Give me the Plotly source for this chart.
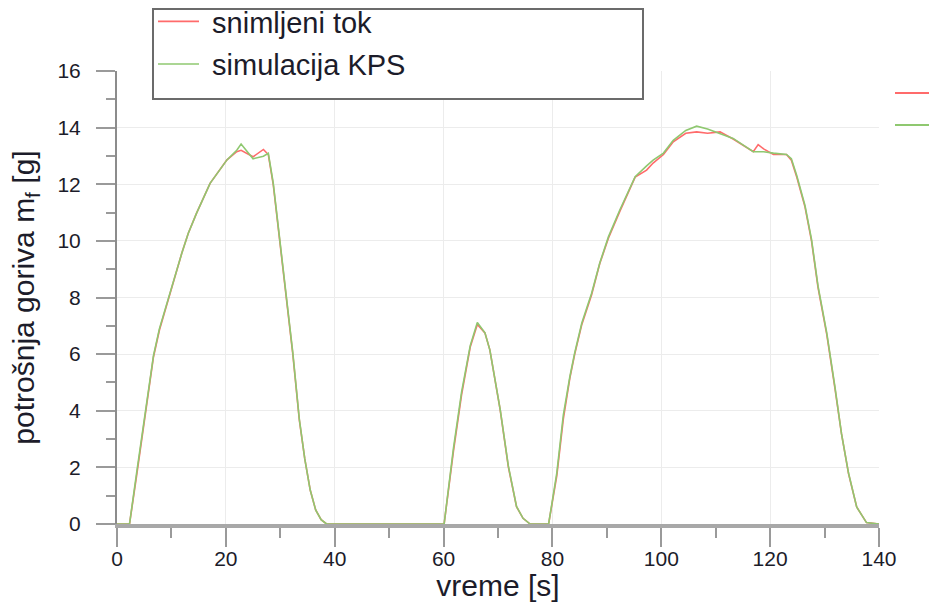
import plotly.graph_objects as go

# time axis [s] and fuel consumption [g] for the measured flow and the KPS simulation
vreme = [0, 2.3, 3.6, 5.2, 6.7, 7.8, 9.7, 11.9, 13.1, 14.6, 17.1, 20.2, 22.0, 22.8,
         25.0, 26.9, 27.8, 28.7, 29.9, 31.2, 32.3, 33.5, 34.5, 35.5, 36.5, 37.5, 38.5,
         50.0, 60.1, 61.8, 63.3, 64.9, 66.2, 67.6, 68.5, 70.4, 71.9, 73.4, 74.6, 75.9,
         77.5, 79.3, 80.8, 82.0, 83.2, 84.1, 85.4, 87.2, 88.7, 90.3, 92.4, 95.2, 97.3, 98.5,
         100.4, 102.2, 104.5, 106.5, 108.5, 110.8, 113.2, 115.7, 116.9, 117.8, 118.8, 120.6,
         123.0, 123.9, 124.9, 126.4, 127.6, 128.8, 130.4, 131.9, 133.1, 134.4, 135.9, 137.7,
         140.0]

snimljeni_tok = [0, 0, 1.7, 3.8, 5.9, 6.85, 8.15, 9.56, 10.27, 10.97, 12.03, 12.86, 13.15, 13.2,
                 12.97, 13.23, 13.05, 12.0, 10.0, 7.9, 6.0, 3.67, 2.3, 1.2, 0.5, 0.15, 0,
                 0, 0, 2.55, 4.55, 6.25, 7.05, 6.75, 6.15, 4.03, 2.02, 0.61, 0.2, 0,
                 0, 0, 1.7, 3.7, 5.15, 6.0, 7.05, 8.1, 9.2, 10.1, 11.05, 12.25, 12.5, 12.75,
                 13.05, 13.5, 13.8, 13.85, 13.8, 13.85, 13.6, 13.3, 13.15, 13.4, 13.25, 13.05,
                 13.05, 12.85, 12.25, 11.2, 10.0, 8.35, 6.7, 4.8, 3.2, 1.78, 0.6, 0.05,
                 0]

simulacija_kps = [0, 0, 1.8, 3.9, 5.95, 6.9, 8.15, 9.56, 10.27, 10.97, 12.03, 12.86, 13.2, 13.42,
                  12.9, 12.99, 13.09, 12.05, 10.05, 7.95, 6.05, 3.7, 2.3, 1.2, 0.5, 0.15, 0,
                  0, 0, 2.65, 4.65, 6.3, 7.12, 6.75, 6.15, 4.05, 2.05, 0.62, 0.2, 0,
                  0, 0, 1.8, 3.85, 5.2, 6.05, 7.1, 8.15, 9.22, 10.15, 11.1, 12.27, 12.65, 12.85,
                  13.1, 13.55, 13.9, 14.05, 13.95, 13.8, 13.62, 13.3, 13.15, 13.15, 13.15, 13.1,
                  13.05, 12.9, 12.3, 11.25, 10.05, 8.4, 6.75, 4.85, 3.2, 1.8, 0.6, 0.05,
                  0]

x_ticks = [0, 20, 40, 60, 80, 100, 120, 140]
y_ticks = [0, 2, 4, 6, 8, 10, 12, 14, 16]

RED = "#ff6b6b"
GREEN = "#8fc870"
FONT = "Liberation Sans, Arial, sans-serif"
TXT = "#1c1c2a"

W, H = 929, 602
L, R, T, B = 117, 50, 71, 78
pw, ph = W - L - R, H - T - B


def px(x):
    return (x - L) / pw


def py(y):
    return (H - B - y) / ph


NBSP = "\u00a0"

fig = go.Figure()
fig.add_trace(go.Scatter(x=vreme, y=snimljeni_tok, name=NBSP + "snimljeni tok", mode="lines",
                         legendgroup="a", line=dict(color=RED, width=1.6)))
fig.add_trace(go.Scatter(x=vreme, y=simulacija_kps, name=NBSP + "simulacija KPS", mode="lines",
                         legendgroup="b", line=dict(color=GREEN, width=1.6)))

axis_common = dict(
    showline=True, ticks="outside", tickcolor="#9a9a9a", tickwidth=2,
    showgrid=True, gridcolor="#ececec", gridwidth=1, automargin=False,
    zeroline=False, tickfont=dict(family=FONT, size=21, color=TXT),
    layer="below traces",
)

fig.update_layout(
    width=W, height=H,
    margin=dict(l=L, r=R, t=T, b=B, autoexpand=False),
    paper_bgcolor="white", plot_bgcolor="white",
    font=dict(family=FONT, color=TXT),
    xaxis=dict(range=[0, 140], tickvals=x_ticks, ticklen=19, ticklabelstandoff=-6,
               linecolor="#a8a8a8", linewidth=4,
               minor=dict(dtick=10, ticklen=10, tickcolor="#9a9a9a", tickwidth=2, showgrid=False),
               title=dict(text="vreme [s]", font=dict(family=FONT, size=30, color=TXT), standoff=2),
               **axis_common),
    yaxis=dict(range=[0, 16], tickvals=y_ticks, ticklen=19, ticklabelstandoff=11,
               linecolor="#8c8c8c", linewidth=2,
               minor=dict(dtick=1, ticklen=9, tickcolor="#9a9a9a", tickwidth=2, showgrid=False),
               title=dict(text="potrošnja goriva m<sub>f</sub> [g]",
                          font=dict(family=FONT, size=30, color=TXT), standoff=14),
               **axis_common),
    legend=dict(x=px(153), y=py(-4), xanchor="left", yanchor="top",
                bgcolor="rgba(0,0,0,0)", borderwidth=0,
                font=dict(family=FONT, size=29, color=TXT),
                tracegroupgap=2, itemwidth=41),
    showlegend=True,
    shapes=[
        # legend frame
        dict(type="rect", xref="paper", yref="paper",
             x0=px(153), x1=px(643), y0=py(99), y1=py(9),
             line=dict(color="#6b6b6b", width=2), fillcolor="white", layer="above"),
        # second, cropped legend at the right edge
        dict(type="line", xref="paper", yref="paper", x0=px(895), x1=px(932),
             y0=py(93), y1=py(93), line=dict(color=RED, width=2)),
        dict(type="line", xref="paper", yref="paper", x0=px(895), x1=px(932),
             y0=py(125), y1=py(125), line=dict(color=GREEN, width=2)),
    ],
)

fig.write_html("out.html")
